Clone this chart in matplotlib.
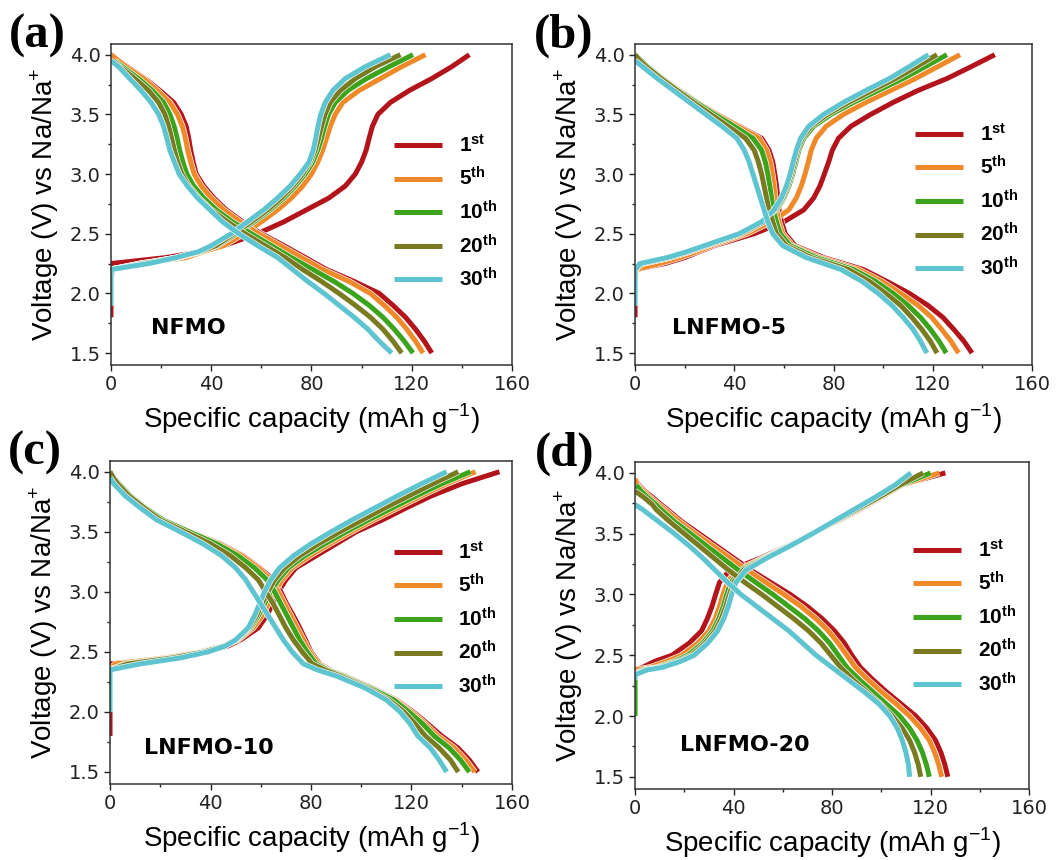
import matplotlib
matplotlib.use('Agg')
import matplotlib.pyplot as plt
import matplotlib.patheffects as pe
import numpy as np
from matplotlib.ticker import MultipleLocator

nan = np.nan

# Cycle labels and colours
CYCLES = ['1', '5', '10', '20', '30']
SUFFIX = ['st', 'th', 'th', 'th', 'th']
COLORS = ['#B3141C', '#F0892A', '#3CA41C', '#7A7A20', '#5EC4CF']

# ---- (a) NFMO ----
A_V_CHG = [1.8, 1.9, 2.0, 2.1, 2.2, 2.25, 2.3, 2.35, 2.4, 2.5, 2.6, 2.7, 2.8,
           2.9, 3.0, 3.1, 3.2, 3.3, 3.4, 3.5, 3.6, 3.7, 3.8, 3.9, 4.0]
A_Q_CHG = [
    [0, 0, 0, 0, 0, 0, 22, 36, 45, 58.5, 69, 78, 87, 93.5, 97.5, 100, 101.8, 103, 104.3, 106.5, 111.5, 119, 128, 136, 143],
    [nan, nan, nan, nan, 0, 12, 30, 37, 45, 53, 60, 66.5, 72, 76.5, 80, 82.5, 84.5, 86, 87.5, 89.5, 92.5, 99, 107.5, 116, 125.5],
    [nan, 0, 0, 0, 0.5, 12, 27, 36, 42.5, 50, 57, 63.5, 69, 73.5, 77.5, 80.5, 82.5, 84, 85.3, 86.8, 89.5, 94.5, 102, 111, 120.5],
    [nan, nan, nan, nan, 0, 13, 26.5, 35.5, 42, 49, 56, 62.5, 68, 72.5, 76.5, 79.5, 81.5, 82.8, 84, 85.4, 87.5, 91.5, 97.5, 105.5, 115.5],
    [nan, 0, 0, 0, 0, 15, 26, 35, 40, 48, 54.5, 61, 66.5, 71.5, 75.5, 79, 80.7, 81.7, 82.6, 83.7, 85.5, 88.5, 93.5, 101.5, 111.5],
]
A_V_DIS = [4.0, 3.95, 3.9, 3.8, 3.7, 3.6, 3.5, 3.4, 3.3, 3.2, 3.1, 3.0, 2.9, 2.8,
           2.7, 2.6, 2.5, 2.4, 2.3, 2.2, 2.1, 2.0, 1.9, 1.8, 1.7, 1.6, 1.5]
A_Q_DIS = [
    [0, 3, 6.5, 13.5, 19.5, 25, 28, 30, 31, 31.8, 32.8, 34, 37, 41, 46, 52.5, 60, 69, 77.5, 86, 97, 107, 112.5, 117.5, 121.5, 125, 128],
    [0, 3, 6, 13, 18.5, 23.5, 26.5, 28.5, 29.7, 30.6, 31.8, 33.2, 36, 40, 45, 51.5, 59, 67.5, 76, 84.5, 95, 103.5, 109, 114, 118, 121.5, 124.5],
    [nan, 1.5, 4.5, 11, 16.5, 21, 23.5, 25.2, 26.4, 27.4, 28.7, 30.3, 33, 37, 42, 48.5, 56, 64, 72, 80.5, 89, 96.5, 103, 108.5, 113, 117, 120.5],
    [nan, 1, 3.5, 9.5, 15, 19, 21.5, 23, 24.2, 25.3, 26.6, 28.3, 31, 35, 40, 46.5, 53.5, 61.5, 69.5, 76.5, 84, 91, 97.5, 103.5, 108.5, 112.5, 116],
    [nan, 0, 3, 7.5, 12, 16, 19, 21, 22.3, 23.5, 25.3, 27.2, 30.5, 34.5, 39.5, 44.5, 51, 58.5, 66.5, 72.5, 78.5, 85, 91, 97, 102.5, 107, 112],
]

# ---- (b) LNFMO-5 ----
B_V_CHG = A_V_CHG
B_Q_CHG = [
    [0, 0, 0, 0, 0.5, 12, 20, 26, 32, 48, 60, 68, 72, 74.5, 76.3, 78, 79.5, 82, 87, 95, 104, 114, 125.7, 135.5, 145],
    [nan, nan, 0, 0, 0.5, 10, 18, 25, 31, 45, 55, 62, 65, 67, 68.5, 69.8, 71, 73, 77, 84, 93, 103, 113, 122, 131],
    [nan, 0, 0, 0, 0, 3, 14, 22, 29, 43, 52, 57, 60, 62, 63.5, 64.8, 66, 68, 72, 79, 88, 98, 108, 117, 125.7],
    [nan, nan, 0, 0, 0, 3, 14, 22, 29, 43, 52, 56.5, 59.5, 61.5, 63, 64.3, 65.5, 67.3, 71, 77.5, 86, 95.5, 105, 113.5, 121.7],
    [nan, 0, 0, 0, 0, 2, 13, 21, 28, 42, 51, 56, 59, 61, 62.5, 63.7, 65, 66.7, 70, 76, 84, 93, 102.5, 110.5, 118.3],
]
B_V_DIS = A_V_DIS
B_Q_DIS = [
    [0, 2.5, 5, 11, 18, 25, 33, 42, 51, 54, 55.5, 56.3, 57, 57.5, 58, 59, 60.5, 64.5, 76, 92, 101.5, 110.5, 118, 124, 128.4, 132.5, 135.8],
    [0, 2.5, 5, 11, 18, 25, 33, 41.5, 50, 53, 54.5, 55.3, 56, 56.5, 57, 58, 59.5, 63.5, 74.5, 90, 99.5, 107, 114, 119.5, 123.5, 127.3, 130.4],
    [0, 2.5, 5, 11, 17.5, 24.5, 32, 40, 47.5, 51, 52.5, 53.5, 54.3, 55, 55.7, 57, 58.5, 62.5, 73, 88, 97, 104, 110, 115, 119, 122.5, 125.4],
    [0, 2, 4.5, 10.5, 17, 23.5, 30.5, 37.5, 44.5, 48, 49.7, 51, 52, 53, 54, 55.5, 57, 61, 71, 86, 94.5, 101, 107, 111.5, 115.5, 119, 121.7],
    [nan, 0, 3, 9, 15.5, 22, 28.5, 35, 41, 44, 46, 47.5, 49, 50.5, 52, 53.5, 55.5, 59.5, 69, 83, 91.5, 98, 103.5, 108, 112, 115, 117.6],
]

# ---- (c) LNFMO-10 ----
C_V_CHG = [1.8, 1.9, 2.0, 2.1, 2.2, 2.3, 2.35, 2.4, 2.45, 2.5, 2.55, 2.6, 2.7,
           2.8, 2.9, 3.0, 3.1, 3.2, 3.3, 3.4, 3.5, 3.6, 3.7, 3.8, 3.9, 4.0]
C_Q_CHG = [
    [0, 0, 0, 0, 0, 0, 0, 0, 25, 38, 47, 52, 59, 62.3, 64.8, 67, 70, 74, 82, 90, 98, 108.5, 118, 128, 140, 155],
    [nan, nan, nan, nan, 0, 0, 0, 2, 22, 36, 45, 51, 57, 60.5, 63, 65.5, 68.5, 72.5, 79.5, 87.5, 96, 105, 114.5, 124, 134, 145.5],
    [nan, nan, 0, 0, 0, 0, 0, 6, 24, 37, 45.5, 50.5, 56, 59, 61.5, 64, 67, 71, 77.5, 85.5, 94, 103, 112.5, 122, 132, 143.5],
    [nan, nan, 0, 0, 0, 0, 0, 7, 25, 37.5, 45.5, 50, 55.5, 58.3, 60.5, 62.8, 65.5, 69.5, 75.5, 83, 91.5, 100.5, 109.5, 119, 128.5, 138.6],
    [nan, nan, 0, 0, 0, 0, 0, 12, 28, 39, 46, 50, 55, 57.5, 59.5, 61.5, 64, 67.5, 73, 80, 88, 96.5, 105.5, 114.5, 124, 134],
]
C_V_DIS = [4.0, 3.95, 3.9, 3.8, 3.7, 3.6, 3.5, 3.4, 3.3, 3.2, 3.1, 3.0, 2.9, 2.8,
           2.7, 2.6, 2.5, 2.4, 2.35, 2.3, 2.2, 2.1, 2.0, 1.9, 1.8, 1.7, 1.6, 1.5]
C_Q_DIS = [
    [0, 1.5, 3.5, 8, 14, 21, 32, 44, 53, 59.5, 65, 68, 70.3, 73, 75.5, 77.8, 80, 83.5, 87.5, 93.5, 104.5, 114, 120.7, 126.5, 132, 138.5, 143, 146.5],
    [0, 1.5, 3.5, 8, 14, 21, 32, 43.5, 52.5, 59, 64, 67, 69.5, 72, 74.5, 77, 79.5, 83, 87, 93, 104, 113.5, 120, 125.5, 130.5, 137, 141.5, 145.2],
    [0, 1.5, 3.5, 8, 14, 21, 31.5, 42.5, 51, 57.5, 62.5, 65.5, 68, 70.5, 73, 75.5, 78.5, 82, 86.5, 92.5, 103.5, 113, 119, 124.5, 129, 135, 139.5, 143],
    [0, 1.3, 3, 7.5, 13.5, 20, 30, 40, 48, 54, 59, 62, 65, 67.5, 70, 73, 76.5, 80.5, 85.5, 91.5, 102.5, 111, 117, 121.5, 125.5, 131, 135.5, 138.6],
    [nan, 0, 1.5, 6, 12, 18.5, 28, 37, 44.5, 50, 54, 57, 60, 63, 66, 69, 72.5, 77, 82.5, 90, 101.5, 110, 115.5, 119.5, 122.5, 127.5, 131, 134],
]

# ---- (d) LNFMO-20 ----
D_V_CHG = [2.0, 2.1, 2.2, 2.3, 2.34, 2.38, 2.4, 2.45, 2.5, 2.6, 2.7, 2.8, 2.9,
           3.0, 3.1, 3.2, 3.3, 3.4, 3.5, 3.6, 3.7, 3.8, 3.9, 4.0]
D_Q_CHG = [
    [nan, nan, nan, 0, 0, 0, 3, 8, 15, 22, 27, 29.3, 31.2, 32.7, 34.3, 38.5, 51, 62, 71.5, 82, 91.5, 100, 108, 126],
    [nan, nan, nan, 0, 0, 0, 6, 13, 19, 25.5, 30, 32.5, 34.3, 35.7, 37.5, 41.5, 52, 62.5, 72, 81.5, 91, 100, 108.5, 123.5],
    [0, 0, 0, 0, 0, 3, 9, 16, 21.5, 27.5, 31.5, 34, 35.8, 37.2, 39, 43, 52.5, 62.5, 72, 81.5, 90.5, 99.5, 108, 120],
    [nan, nan, nan, 0, 0, 4, 10, 17.5, 23, 28.5, 32.5, 35, 36.8, 38.3, 40, 44, 53, 63, 72, 81, 90, 99, 107.5, 117],
    [nan, nan, nan, 0, 0, 5, 11, 18.5, 24, 29.5, 33.5, 36, 37.8, 39.2, 41, 45, 53.5, 63, 72, 80.5, 89, 97.5, 105.5, 112],
]
D_V_DIS = [4.0, 3.95, 3.9, 3.85, 3.8, 3.74, 3.7, 3.6, 3.5, 3.4, 3.3, 3.2, 3.1, 3.0,
           2.9, 2.8, 2.7, 2.6, 2.5, 2.4, 2.3, 2.2, 2.1, 2.0, 1.9, 1.8, 1.7, 1.6, 1.5]
D_Q_DIS = [
    [nan, 0, 1.5, 4, 7, 10.5, 13, 19, 26, 33, 40, 47, 55, 63, 70, 76, 81, 85, 88, 91.5, 96.5, 102, 108, 114, 118.5, 122, 124.2, 125.8, 127],
    [nan, 0, 1, 3.5, 6, 9.5, 12, 18, 24.5, 31.5, 38.5, 45.5, 53, 60.5, 67.5, 73.5, 78.5, 82.5, 86, 89.5, 94.5, 100, 106, 111.5, 116, 119.5, 121.7, 123.3, 124.5],
    [nan, nan, 0.5, 2.5, 5, 8.5, 10.5, 16, 22.5, 29, 35.5, 42, 49, 56, 62.5, 69, 74.5, 79, 82.5, 86, 91, 96.5, 102, 107.5, 111.5, 114.5, 116.7, 118.3, 119.5],
    [nan, nan, nan, 0, 3.5, 7, 8.5, 14, 20, 26, 32, 38, 44.5, 51.5, 58, 64.5, 70.5, 75.5, 79.5, 83.5, 88.5, 94, 99.5, 104.5, 108.5, 111.5, 113.5, 115, 116],
    [nan, nan, nan, nan, nan, 0, 3, 9.5, 16, 22, 27.5, 32.5, 37.5, 43, 49.5, 56, 62.5, 68, 73.5, 80, 86.5, 93, 99, 103.5, 106.5, 108.5, 110, 111, 111.5],
]

PANELS = [
    ('(a)', 'NFMO', A_V_CHG, A_Q_CHG, A_V_DIS, A_Q_DIS),
    ('(b)', 'LNFMO-5', B_V_CHG, B_Q_CHG, B_V_DIS, B_Q_DIS),
    ('(c)', 'LNFMO-10', C_V_CHG, C_Q_CHG, C_V_DIS, C_Q_DIS),
    ('(d)', 'LNFMO-20', D_V_CHG, D_Q_CHG, D_V_DIS, D_Q_DIS),
]

plt.rcParams['font.family'] = ['Liberation Sans', 'DejaVu Sans']
plt.rcParams['mathtext.fontset'] = 'custom'
plt.rcParams['mathtext.rm'] = 'Liberation Sans'
plt.rcParams['mathtext.bf'] = 'Liberation Sans:bold'

fig = plt.figure(figsize=(10.62, 8.6), dpi=100)

# axes rectangles in figure fractions
RECTS = [
    [0.1045, 0.5756, 0.3776, 0.3733],
    [0.5980, 0.5756, 0.3738, 0.3733],
    [0.1036, 0.0884, 0.3785, 0.3756],
    [0.5980, 0.0826, 0.3710, 0.3802],
]
NAME_POS = [(0.10, 0.115), (0.093, 0.115), (0.085, 0.11), (0.114, 0.135)]
LEG_Y = [0.475, 0.51, 0.51, 0.525]

LW = 3.6
stroke = [pe.Stroke(linewidth=LW + 0.9, foreground='white'), pe.Normal()]

for i, (tag, name, v_chg, q_chg, v_dis, q_dis) in enumerate(PANELS):
    ax = fig.add_axes(RECTS[i])
    handles = []
    for k in range(len(CYCLES)):
        ln, = ax.plot(q_chg[k], v_chg, color=COLORS[k], lw=LW,
                      solid_capstyle='butt', path_effects=stroke,
                      label=r'$\mathbf{%s^{%s}}$' % (CYCLES[k], SUFFIX[k]))
        ax.plot(q_dis[k], v_dis, color=COLORS[k], lw=LW,
                solid_capstyle='butt', path_effects=stroke)
        handles.append(ln)

    ax.set_xlim(0, 160)
    ax.set_ylim(1.4, 4.09)
    ax.xaxis.set_major_locator(MultipleLocator(40))
    ax.xaxis.set_minor_locator(MultipleLocator(20))
    ax.yaxis.set_major_locator(MultipleLocator(0.5))
    ax.yaxis.set_minor_locator(MultipleLocator(0.25))
    ax.tick_params(which='both', direction='out', width=1, colors='#222222')
    ax.tick_params(which='major', length=4.5, labelsize=14, pad=3)
    ax.tick_params(which='minor', length=2.5)
    for lab in ax.get_xticklabels() + ax.get_yticklabels():
        lab.set_family('DejaVu Sans')
    for sp in ax.spines.values():
        sp.set_linewidth(1.1)
        sp.set_color('#333333')

    ax.set_xlabel('Specific capacity (mAh g$^{-1}$)', fontsize=20, labelpad=5)
    ax.set_ylabel('Voltage (V) vs Na/Na$^{+}$', fontsize=20, labelpad=6)

    ax.text(NAME_POS[i][0], NAME_POS[i][1], name, transform=ax.transAxes,
            fontsize=16, fontweight='bold', family='DejaVu Sans',
            va='center', ha='left')

    ax.legend(handles=handles, loc='center left',
              bbox_to_anchor=(0.68, LEG_Y[i]), frameon=False,
              fontsize=15, handlelength=2.3, handletextpad=0.8,
              labelspacing=0.5, borderpad=0)

    ax.text(-0.255, 1.025, tag, transform=ax.transAxes, fontsize=35,
            fontweight='bold', family='Liberation Serif', va='center',
            ha='left')

fig.savefig('out.png', dpi=100)
